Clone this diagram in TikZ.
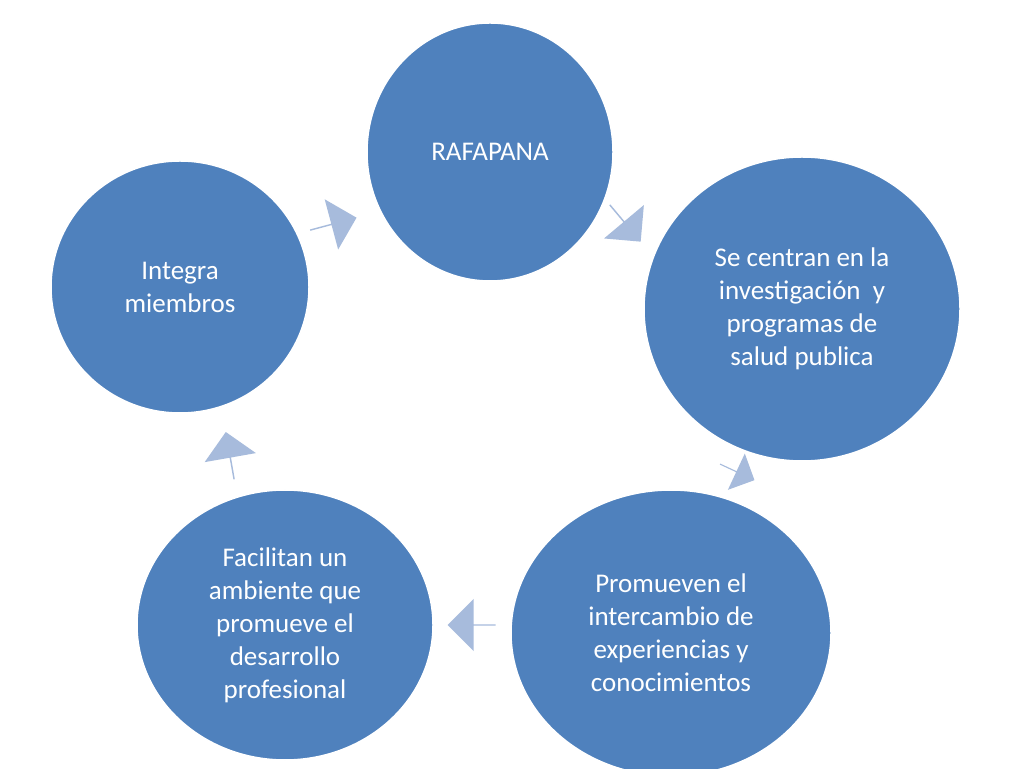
\documentclass[tikz,border=0pt]{standalone}
\usepackage{fontspec}
\setmainfont{Carlito}
\usetikzlibrary{shapes.arrows}
\definecolor{cfill}{HTML}{4F81BD}
\definecolor{afill}{HTML}{A7BBDC}
\tikzset{
 circ/.style={ellipse, fill=cfill, draw=white, line width=1.5pt, text=white, font=\fontsize{27}{33}\selectfont, align=center},
 arr/.style={single arrow, fill=afill, draw=none, minimum width=52pt, minimum height=48pt, single arrow head extend=7pt, inner sep=0pt, anchor=center}
}
\usetikzlibrary{shapes.geometric}
\begin{document}
\begin{tikzpicture}[x=1pt,y=1pt]
\useasboundingbox (0,0) rectangle (1024,768);
\fill[white] (0,0) rectangle (1024,768);
\node[circ, minimum width=246pt, minimum height=258pt] (r) at (490,616) {RAFAPANA};
\node[circ, minimum width=316pt, minimum height=304pt] (s) at (802,459) {Se centran en la\\investigación\ \ y\\programas de\\salud publica};
\node[circ, minimum width=320pt, minimum height=286pt] (p) at (671,135) {Promueven el\\intercambio de\\experiencias y\\conocimientos};
\node[circ, minimum width=296pt, minimum height=270pt] (f) at (285,143) {Facilitan un\\ambiente que\\promueve el\\desarrollo\\profesional};
\node[circ, minimum width=258pt, minimum height=252pt] (i) at (180,481) {Integra\\miembros};
\node[arr, rotate=15] (a1) at (333,544) {};
\node[arr, rotate=-50] (a2) at (625,545) {};
\node[arr, rotate=-25, minimum width=40pt, minimum height=38pt] (a3) at (737,296) {};
\node[arr, rotate=180] (a4) at (472,143) {};
\node[arr, rotate=100] (a5) at (230,312) {};
\end{tikzpicture}
\end{document}
